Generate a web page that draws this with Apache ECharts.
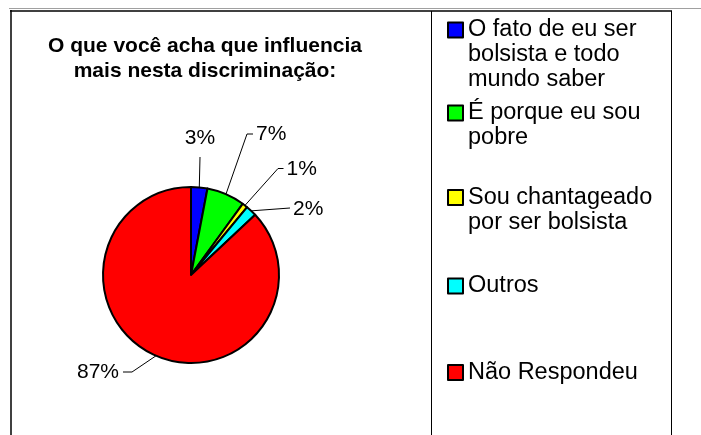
<!DOCTYPE html>
<html>
<head>
<meta charset="utf-8">
<script src="https://cdn.jsdelivr.net/npm/echarts@6/dist/echarts.min.js"></script>
<style>
  html, body { margin: 0; padding: 0; background: #fff; }
  #chart { width: 701px; height: 435px; }
</style>
</head>
<body>
<div id="chart"></div>
<script>
  // dados
  var categories = [
    'O fato de eu ser\nbolsista e todo\nmundo saber',
    'É porque eu sou\npobre',
    'Sou chantageado\npor ser bolsista',
    'Outros',
    'Não Respondeu'
  ];
  var values = [3, 7, 1, 2, 87];
  var colors = ['#0000ff', '#00ff00', '#ffff00', '#00ffff', '#ff0000'];

  var font = 'Arial, "Liberation Sans", sans-serif';
  var chart = echarts.init(document.getElementById('chart'));

  // posição vertical do ícone de cada item da legenda
  var legendIconY = [30, 113, 197.5, 286, 372.5];
  var legendLineH = 25;

  // onde ficam os rótulos (cotovelo, fim da linha, alinhamento do texto)
  var labelSpots = [
    { elbow: [200, 157], end: [200, 157], text: [200, 138], align: 'center' },
    { elbow: [247, 134], end: [253, 134], text: [256, 134], align: 'left' },
    { elbow: [278, 168.5], end: [283.5, 168.5], text: [286.5, 169], align: 'left' },
    { elbow: [290, 208], end: [290, 208], text: [293, 209], align: 'left' },
    { elbow: [132, 372], end: [123, 372], text: [119, 372], align: 'right' }
  ];

  var legends = categories.map(function (name, i) {
    var n = name.split('\n').length;
    var pre = new Array(n).join('\n');
    return {
      data: [name],
      orient: 'vertical',
      left: 447,
      top: legendIconY[i] - (2 * n - 1) * legendLineH / 2,
      padding: 0,
      itemWidth: 15,
      itemHeight: 15,
      icon: 'rect',
      selectedMode: false,
      formatter: function (nm) { return pre + nm; },
      itemStyle: { borderColor: '#000', borderWidth: 2 },
      textStyle: {
        fontFamily: font,
        fontSize: 23.5,
        color: '#000',
        lineHeight: legendLineH
      }
    };
  });

  var option = {
    backgroundColor: '#fff',
    animation: false,
    color: colors,
    title: {
      text: 'O que você acha que influencia\nmais nesta discriminação:',
      left: 205,
      top: 34,
      textAlign: 'center',
      padding: 0,
      textStyle: {
        fontFamily: font,
        fontSize: 21,
        fontWeight: 'bold',
        color: '#000',
        lineHeight: 25
      }
    },
    legend: legends,
    graphic: [
      { type: 'line', shape: { x1: 9, y1: 8.5, x2: 701, y2: 8.5 }, style: { stroke: '#a0a0a0', lineWidth: 1 } },
      { type: 'line', shape: { x1: 10, y1: 11, x2: 672, y2: 11 }, style: { stroke: '#000', lineWidth: 1.5 } },
      { type: 'line', shape: { x1: 11, y1: 10, x2: 11, y2: 435 }, style: { stroke: '#000', lineWidth: 1.5 } },
      { type: 'line', shape: { x1: 431.5, y1: 11, x2: 431.5, y2: 435 }, style: { stroke: '#000', lineWidth: 1 } },
      { type: 'line', shape: { x1: 671.5, y1: 11, x2: 671.5, y2: 435 }, style: { stroke: '#000', lineWidth: 1 } }
    ],
    series: [{
      type: 'pie',
      center: [191, 275],
      radius: 88,
      startAngle: 90,
      clockwise: true,
      avoidLabelOverlap: false,
      itemStyle: { borderColor: '#000', borderWidth: 2 },
      label: {
        show: true,
        position: 'outside',
        formatter: '{c}%',
        fontFamily: font,
        fontSize: 21,
        color: '#000'
      },
      labelLine: {
        show: true,
        length: 30,
        length2: 6,
        lineStyle: { color: '#000', width: 1 }
      },
      labelLayout: function (params) {
        var s = labelSpots[params.dataIndex];
        var start = params.labelLinePoints ? params.labelLinePoints[0] : s.elbow;
        return {
          x: s.text[0],
          y: s.text[1],
          align: s.align,
          verticalAlign: 'middle',
          labelLinePoints: [start, s.elbow, s.end]
        };
      },
      emphasis: { disabled: true },
      data: categories.map(function (c, i) {
        return { name: c, value: values[i] };
      })
    }]
  };

  chart.setOption(option);
</script>
</body>
</html>
